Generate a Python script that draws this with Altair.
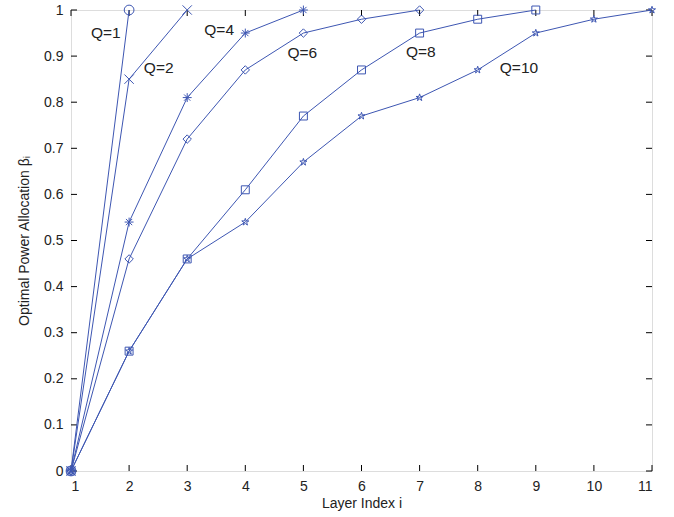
import altair as alt
import pandas as pd

COLOR = "#3d56b2"
FONT = "Liberation Sans"

q1_x = [1, 2]
q1_y = [0, 1.0]
q2_x = [1, 2, 3]
q2_y = [0, 0.85, 1.0]
q4_x = [1, 2, 3, 4, 5]
q4_y = [0, 0.54, 0.81, 0.95, 1.0]
q6_x = [1, 2, 3, 4, 5, 6, 7]
q6_y = [0, 0.46, 0.72, 0.87, 0.95, 0.98, 1.0]
q8_x = [1, 2, 3, 4, 5, 6, 7, 8, 9]
q8_y = [0, 0.26, 0.46, 0.61, 0.77, 0.87, 0.95, 0.98, 1.0]
q10_x = [1, 2, 3, 4, 5, 6, 7, 8, 9, 10, 11]
q10_y = [0, 0.26, 0.46, 0.54, 0.67, 0.77, 0.81, 0.87, 0.95, 0.98, 1.0]

series_names = ["Q=1", "Q=2", "Q=4", "Q=6", "Q=8", "Q=10"]
series_x = [q1_x, q2_x, q4_x, q6_x, q8_x, q10_x]
series_y = [q1_y, q2_y, q4_y, q6_y, q8_y, q10_y]

label_text = ["Q=1", "Q=2", "Q=4", "Q=6", "Q=8", "Q=10"]
label_x = [1.60, 2.51, 3.55, 4.98, 7.02, 8.71]
label_y = [0.95, 0.874, 0.957, 0.907, 0.909, 0.874]

x_ticks = list(range(1, 12))
y_ticks = [0, 0.1, 0.2, 0.3, 0.4, 0.5, 0.6, 0.7, 0.8, 0.9, 1.0]

x_path = "M-1,-1L1,1M-1,1L1,-1"
ast_path = "M-1,0L1,0M0,-1L0,1M-0.7,-0.7L0.7,0.7M-0.7,0.7L0.7,-0.7"
star_path = ("M0,-1L0.224,-0.309L0.951,-0.309L0.362,0.118L0.588,0.809L0,0.38"
             "L-0.588,0.809L-0.362,0.118L-0.951,-0.309L-0.224,-0.309Z")
shapes = ["circle", x_path, ast_path, "diamond", "square", star_path]
sizes = [95, 55, 75, 110, 120, 110]

rows = []
for n, xs, ys in zip(series_names, series_x, series_y):
    for a, b in zip(xs, ys):
        rows.append({"series": n, "x": a, "y": b})
df = pd.DataFrame(rows)

labels = pd.DataFrame({"t": label_text, "x": label_x, "y": label_y})

xs = alt.Scale(domain=[1, 11], nice=False, zero=False)
ys = alt.Scale(domain=[0, 1], nice=False)

base = alt.Chart(df)

lines = base.mark_line(color=COLOR, strokeWidth=1, clip=False).encode(
    x=alt.X("x:Q", scale=xs,
            axis=alt.Axis(values=x_ticks, title="Layer Index i", format="d",
                          grid=False, tickSize=0, labelPadding=8, domain=False,
                          labelFont=FONT, labelFontSize=14, labelColor="#222",
                          titleFont=FONT, titleFontSize=14, titleFontWeight="normal",
                          titleColor="#222", titlePadding=3)),
    y=alt.Y("y:Q", scale=ys,
            axis=alt.Axis(values=y_ticks, title="Optimal Power Allocation βᵢ",
                          grid=False, tickSize=0, labelPadding=8, domain=False,
                          labelFont=FONT, labelFontSize=14, labelColor="#222",
                          labelExpr="datum.value == 0 ? '0' : datum.value == 1 ? '1' : format(datum.value, '.1f')",
                          titleFont=FONT, titleFontSize=14, titleFontWeight="normal",
                          titleColor="#222", titlePadding=12)),
    detail="series:N",
)

points = base.mark_point(filled=False, color=COLOR, strokeWidth=1, opacity=1, clip=False).encode(
    x=alt.X("x:Q", scale=xs),
    y=alt.Y("y:Q", scale=ys),
    shape=alt.Shape("series:N", scale=alt.Scale(domain=series_names, range=shapes), legend=None),
    size=alt.Size("series:N", scale=alt.Scale(domain=series_names, range=sizes), legend=None),
)

text = alt.Chart(labels).mark_text(font=FONT, fontSize=15.5, color="#222").encode(
    x=alt.X("x:Q", scale=xs), y=alt.Y("y:Q", scale=ys), text="t:N"
)

# inward tick marks
xt = pd.DataFrame({"v": x_ticks})
yt = pd.DataFrame({"v": y_ticks})
tick_bottom = alt.Chart(xt).mark_rule(color="black", strokeWidth=1).encode(
    x=alt.X("v:Q", scale=xs), y=alt.value(461), y2=alt.value(455))
tick_top = alt.Chart(xt).mark_rule(color="black", strokeWidth=1).encode(
    x=alt.X("v:Q", scale=xs), y=alt.value(0), y2=alt.value(6))
tick_left = alt.Chart(yt).mark_rule(color="black", strokeWidth=1).encode(
    y=alt.Y("v:Q", scale=ys), x=alt.value(0), x2=alt.value(6))
tick_right = alt.Chart(yt).mark_rule(color="black", strokeWidth=1).encode(
    y=alt.Y("v:Q", scale=ys), x=alt.value(581), x2=alt.value(575))

chart = alt.layer(
    tick_bottom, tick_top, tick_left, tick_right, lines, points, text
).properties(
    width=581, height=461,
    autosize=alt.AutoSizeParams(type="none"),
    padding={"left": 71, "top": 10, "right": 22, "bottom": 46},
).configure_view(
    stroke="black", strokeWidth=1.8
).configure(background="white")

chart.save("out.html", embed_options={"renderer": "svg", "actions": False})
